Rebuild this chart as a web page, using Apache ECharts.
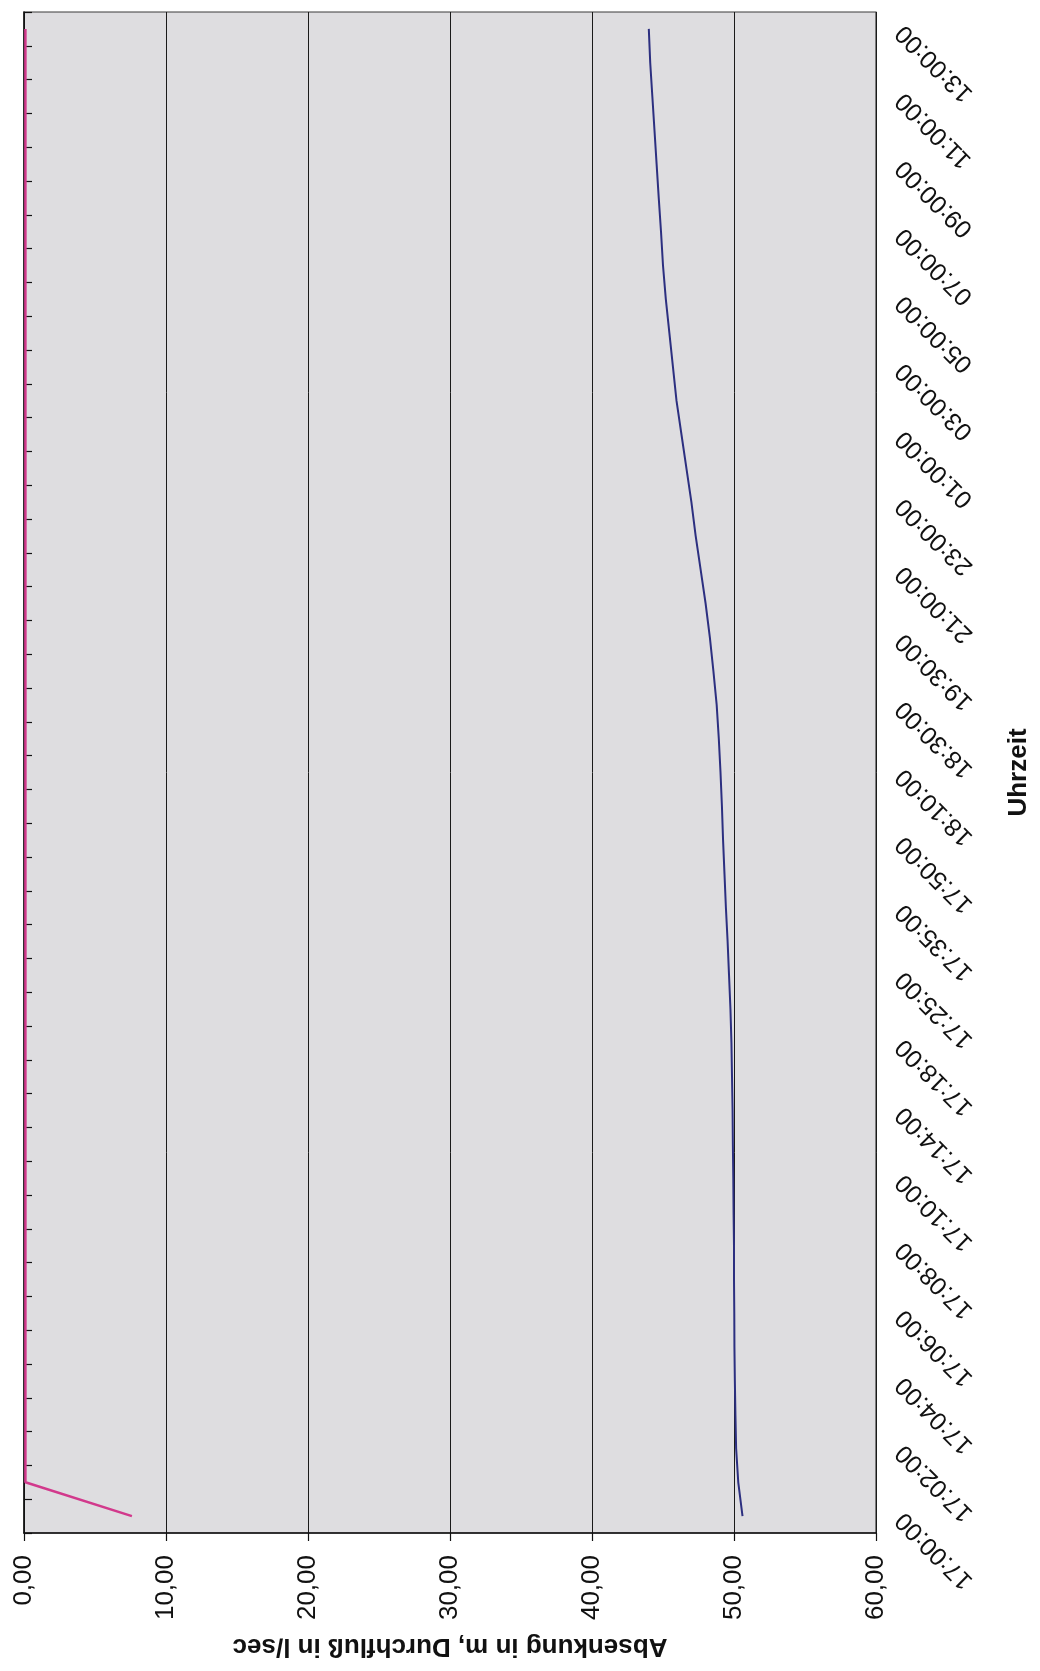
<!DOCTYPE html>
<html>
<head>
<meta charset="utf-8">
<script src="https://cdn.jsdelivr.net/npm/echarts@6/dist/echarts.min.js"></script>
<style>
html,body{margin:0;padding:0;background:#fff;}
#chart{width:1040px;height:1671px;}
</style>
</head>
<body>
<div id="chart"></div>
<script>
// Category axis (time of day), bottom to top
const categories = ['17:00:00','17:01:00','17:02:00','17:03:00','17:04:00','17:05:00','17:06:00','17:07:00','17:08:00','17:09:00',
  '17:10:00','17:12:00','17:14:00','17:16:00','17:18:00','17:20:00','17:25:00','17:30:00','17:35:00','17:40:00',
  '17:50:00','18:00:00','18:10:00','18:20:00','18:30:00','19:00:00','19:30:00','20:00:00','21:00:00','22:00:00',
  '23:00:00','00:00:00','01:00:00','02:00:00','03:00:00','04:00:00','05:00:00','06:00:00','07:00:00','08:00:00',
  '09:00:00','10:00:00','11:00:00','12:00:00','13:00:00'];

// Absenkung in m (blue)
const absenkung = [50.6, 50.3, 50.15, 50.1, 50.06, 50.03, 50.02, 50.0, 50.0, 49.97,
  49.95, 49.92, 49.9, 49.86, 49.82, 49.75, 49.65, 49.55, 49.43, 49.33,
  49.23, 49.15, 49.05, 48.93, 48.78, 48.55, 48.3, 48.0, 47.65, 47.3,
  47.0, 46.65, 46.3, 45.95, 45.7, 45.45, 45.2, 45.0, 44.86, 44.7,
  44.55, 44.4, 44.25, 44.1, 44.0];

// Durchfluss in l/sec (magenta)
const durchfluss = [7.6, 0.1, 0.1, 0.1, 0.1, 0.1, 0.1, 0.1, 0.1, 0.1,
  0.1, 0.1, 0.1, 0.1, 0.1, 0.1, 0.1, 0.1, 0.1, 0.1,
  0.1, 0.1, 0.1, 0.1, 0.1, 0.1, 0.1, 0.1, 0.1, 0.1,
  0.1, 0.1, 0.1, 0.1, 0.1, 0.1, 0.1, 0.1, 0.1, 0.1,
  0.1, 0.1, 0.1, 0.1, 0.1];

// Value axis ticks
const valueMin = 0, valueMax = 60, valueStep = 10;
const valueAxisTitle = 'Absenkung in m, Durchfluß in l/sec';
const timeAxisTitle = 'Uhrzeit';

const FONT = 'Liberation Sans';
const chart = echarts.init(document.getElementById('chart'), null, {renderer: 'canvas'});
chart.setOption({
  animation: false,
  backgroundColor: '#ffffff',
  grid: {
    left: 24, right: 164, top: 12, bottom: 138,
    show: true, backgroundColor: '#dedde0', borderColor: '#3a3a3a', borderWidth: 1.2,
    containLabel: false
  },
  xAxis: {
    type: 'value', position: 'bottom',
    min: valueMin, max: valueMax, interval: valueStep,
    axisLine: {show: true, lineStyle: {color: '#111', width: 1.5}},
    axisTick: {show: true, length: 8, lineStyle: {color: '#111', width: 1.2}},
    splitLine: {show: true, lineStyle: {color: '#1a1a1a', width: 1}},
    axisLabel: {
      rotate: 90, margin: 22, fontSize: 26, color: '#111', fontFamily: FONT,
      formatter: v => v.toFixed(2).replace('.', ',')
    },
    name: valueAxisTitle, nameLocation: 'middle', nameRotate: 180, nameGap: 100,
    nameTextStyle: {fontSize: 26, fontWeight: 'bold', color: '#111', fontFamily: FONT}
  },
  yAxis: {
    type: 'category', position: 'right', boundaryGap: true, data: categories,
    axisLine: {show: true, lineStyle: {color: '#111', width: 1.5}},
    axisTick: {show: true, interval: 0, length: 8, lineStyle: {color: '#111', width: 1.2}},
    splitLine: {show: false},
    axisLabel: {
      interval: 1, rotate: 135, margin: 24, fontSize: 25, color: '#111', fontFamily: FONT
    },
    name: timeAxisTitle, nameLocation: 'middle', nameRotate: 90, nameGap: 130,
    nameTextStyle: {fontSize: 26, fontWeight: 'bold', color: '#111', fontFamily: FONT}
  },
  series: [
    {
      name: 'Absenkung', type: 'line', data: absenkung, symbol: 'none',
      lineStyle: {color: '#2c2f80', width: 2}, itemStyle: {color: '#2c2f80'}
    },
    {
      name: 'Durchfluss', type: 'line', data: durchfluss, symbol: 'none',
      lineStyle: {color: '#d2398c', width: 2.5}, itemStyle: {color: '#d2398c'}
    }
  ]
});
</script>
</body>
</html>
